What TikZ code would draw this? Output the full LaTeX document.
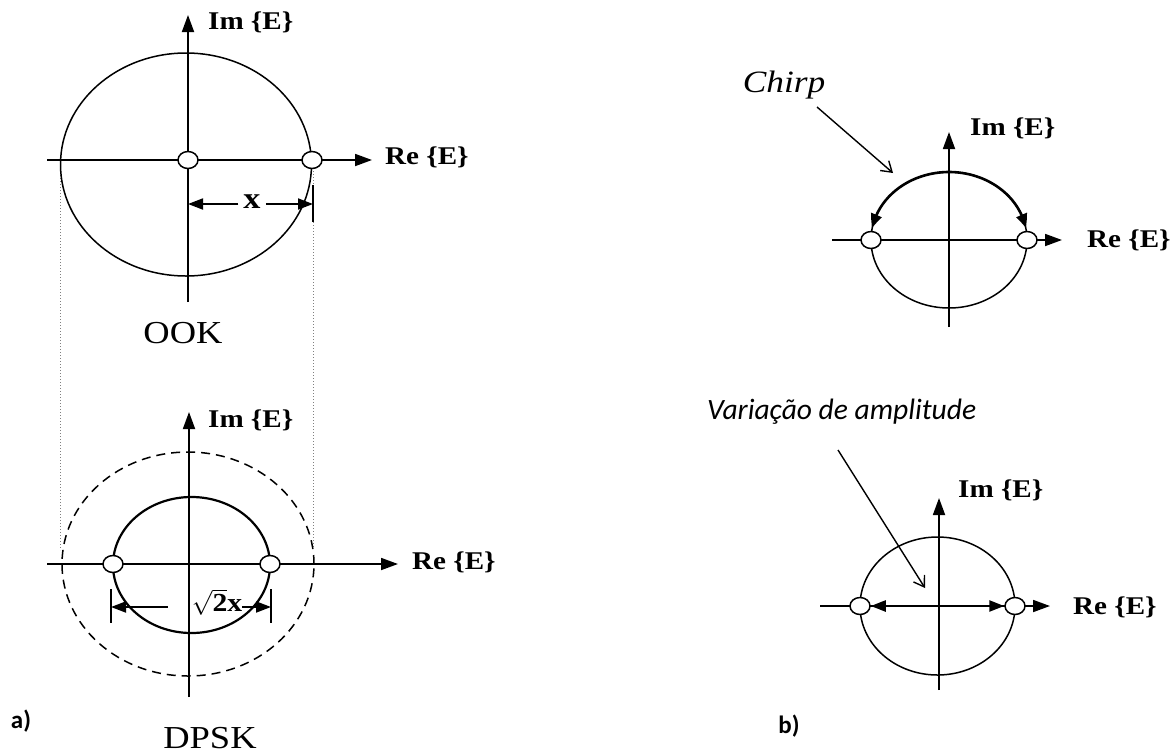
\documentclass[tikz,border=0pt]{standalone}
\usepackage{fontspec}
\setmainfont{Liberation Serif}[FakeStretch=1.14]
\newfontfamily\calib{Carlito}
\usetikzlibrary{arrows.meta,shapes.geometric,bending}
\begin{document}
\begin{tikzpicture}[x=1pt,y=-1pt,
  axis/.style={line width=1.8pt,-{Triangle[length=17pt,width=12pt]}},
  ring/.style={line width=1.5pt},
  dot/.style={ellipse,draw,fill=white,line width=1.5pt,minimum width=20pt,minimum height=17pt,inner sep=0pt},
  axlbl/.style={font=\fontsize{25.5}{28}\selectfont\bfseries,inner sep=0pt,anchor=west},
  dimarr/.style={line width=1.8pt,-{Triangle[length=15pt,width=11pt]}},
  tickline/.style={line width=1.8pt},
  guide/.style={gray,dotted,line width=1pt},
  pointer/.style={line width=1.4pt,-{Straight Barb[length=10pt,width=13pt,line width=1.4pt]}},
  capfont/.style={font=\fontsize{32}{34}\selectfont,inner sep=0pt},
  panel/.style={font=\calib\bfseries\fontsize{25}{27}\selectfont,inner sep=0pt},
  thickarr/.style={line width=2.6pt,{Triangle[length=14pt,width=11pt,bend]}-{Triangle[length=14pt,width=11pt,bend]}}
]
\useasboundingbox (0,0) rectangle (1172,753);

% ---------- guides ----------
\draw[guide] (60,166) -- (60,550);
\draw[guide] (313,168) -- (313,548);

% ---------- OOK ----------
\draw[ring] (186,164.5) ellipse [x radius=125.5pt, y radius=111.5pt];
\draw[axis] (188,302) -- (188,15);
\draw[axis] (47,160) -- (372,160);
\node[dot] (ook0) at (188,160) {};
\node[dot] (ook1) at (312,160) {};
\node[axlbl] (ookIm) at (208,22) {Im \{E\}};
\node[axlbl] (ookRe) at (385,157) {Re \{E\}};
\coordinate (xa) at (188,204);
\coordinate (xb) at (313,204);
\node[font=\fontsize{30}{32}\selectfont\bfseries,inner xsep=5pt,inner ysep=0pt] (xl) at (252,202) {x};
\draw[dimarr] (xl.west |- xa) -- (xa);
\draw[dimarr] (xl.east |- xb) -- (xb);
\draw[tickline] (313,185) -- (313,222);
\node[capfont] (ook) at (183,333) {OOK};

% ---------- DPSK ----------
\draw[ring,dash pattern=on 9pt off 6pt] (188,564) ellipse [x radius=126pt, y radius=112pt];
\draw[line width=2.2pt] (191.5,565) ellipse [x radius=78.5pt, y radius=68pt];
\draw[axis] (189,697) -- (189,412);
\draw[axis] (47,564) -- (398,564);
\node[dot] (dp0) at (113,564) {};
\node[dot] (dp1) at (270,564) {};
\node[axlbl] (dpIm) at (208,420) {Im \{E\}};
\node[axlbl] (dpRe) at (412,562) {Re \{E\}};
\draw[tickline] (111,589) -- (111,623);
\draw[tickline] (271,589) -- (271,623);
\coordinate (sa) at (111,607);
\coordinate (sb) at (271,607);
\node[font=\fontsize{26}{28}\selectfont,inner sep=0pt] (sq) at (217,602) {$\sqrt{\textbf{2}}\textbf{x}$};
\draw[dimarr] ([xshift=-24pt]sq.west |- sa) -- (sa);
\draw[dimarr] (sq.east |- sb) -- (sb);
\node[capfont] (dpsk) at (210,738) {DPSK};

% ---------- Chirp ----------
\draw[ring] (949,240) ellipse [x radius=78pt, y radius=68pt];
\draw[axis] (949,327) -- (949,132);
\draw[axis] (832,240) -- (1062,240);
\draw[thickarr] (1025.8,228.2) arc [start angle=10, end angle=170, x radius=78pt, y radius=68pt];
\node[dot] (ch0) at (871,240) {};
\node[dot] (ch1) at (1027,240) {};
\node[axlbl] (chIm) at (970,128) {Im \{E\}};
\node[axlbl] (chRe) at (1087,240) {Re \{E\}};
\node[font=\fontsize{31}{33}\selectfont\itshape,inner sep=0pt] (chirp) at (784,85) {Chirp};
\coordinate (chA) at (817,107);
\coordinate (chB) at (893,173);
\draw[pointer] (chA) -- (chB);

% ---------- Amplitude ----------
\draw[ring] (937.5,606) ellipse [x radius=77.5pt, y radius=69pt];
\draw[axis] (939,690) -- (939,498);
\draw[axis] (820,606) -- (1050,606);
\node[dot] (am0) at (860,606) {};
\node[dot] (am1) at (1015,606) {};
\draw[line width=2.4pt,{Triangle[length=15pt,width=11pt]}-{Triangle[length=15pt,width=11pt]}] (am0.east) -- (am1.west);
\node[axlbl] (amIm) at (958,490) {Im \{E\}};
\node[axlbl] (amRe) at (1073,607) {Re \{E\}};
\node[font=\calib\itshape\fontsize{29.5}{31}\selectfont,inner sep=0pt,anchor=west] (amp) at (707,412) {Variação de amplitude};
\coordinate (amA) at (838,450);
\coordinate (amB) at (925,588);
\draw[pointer] (amA) -- (amB);

% ---------- panel labels ----------
\node[panel] (pa) at (21,721) {a)};
\node[panel] (pb) at (789,726) {b)};
\end{tikzpicture}
\end{document}
